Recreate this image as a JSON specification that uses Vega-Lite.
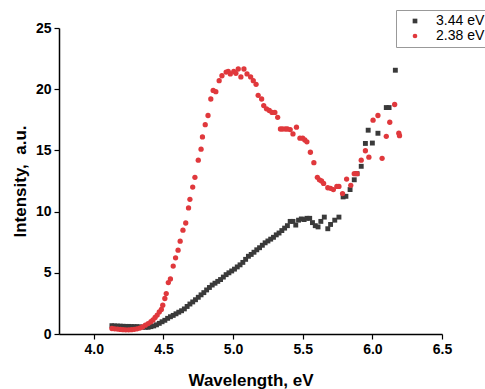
{
  "$schema": "https://vega.github.io/schema/vega-lite/v6.json",
  "autosize": "none",
  "width": 383,
  "height": 306,
  "padding": {"left": 59, "top": 28, "right": 43, "bottom": 55},
  "background": "white",
  "config": {"view": {"stroke": null}, "font": "Liberation Sans"},
  "datasets": {
    "red": [
      [4.13,0.45],[4.15,0.42],[4.17,0.40],[4.19,0.37],[4.21,0.35],[4.23,0.34],[4.25,0.34],[4.27,0.35],[4.29,0.38],[4.31,0.42],[4.33,0.48],[4.35,0.58],[4.37,0.72],[4.39,0.85],[4.41,1.0],[4.425,1.15],[4.44,1.35],[4.455,1.55],[4.47,1.8],[4.485,2.0],[4.495,2.35],[4.51,2.9],[4.52,3.3],[4.535,4.2],[4.55,4.5],[4.57,5.55],[4.587,6.22],[4.605,6.85],[4.62,7.58],[4.64,8.48],[4.66,9.07],[4.68,10.3],[4.69,11.0],[4.71,12.0],[4.726,12.8],[4.75,14.2],[4.77,15.1],[4.78,16.1],[4.80,17.1],[4.82,17.85],[4.84,19.2],[4.857,19.9],[4.876,19.8],[4.90,20.7],[4.92,21.1],[4.95,21.4],[4.965,21.45],[4.98,21.25],[5.005,21.46],[5.02,21.3],[5.037,21.65],[5.056,21.0],[5.078,21.65],[5.10,21.25],[5.126,21.0],[5.145,20.7],[5.165,20.4],[5.18,19.5],[5.205,19.2],[5.22,18.66],[5.24,18.4],[5.26,18.26],[5.28,18.1],[5.30,18.1],[5.32,17.7],[5.34,16.75],[5.355,16.75],[5.375,16.75],[5.39,16.75],[5.41,16.7],[5.43,16.35],[5.455,16.9],[5.48,16.0],[5.50,16.0],[5.515,15.85],[5.53,15.7],[5.555,14.85],[5.58,14.0],[5.605,12.8],[5.62,12.6],[5.635,12.5],[5.65,12.3],[5.68,11.95],[5.70,11.9],[5.72,11.8],[5.745,12.06],[5.76,12.06],[5.786,11.47],[5.815,12.66],[5.845,12.15],[5.87,13.1],[5.89,13.1],[5.92,14.2],[5.95,14.97],[5.975,14.45],[6.005,17.47],[6.04,17.85],[6.07,14.35],[6.10,16.15],[6.125,17.3],[6.16,18.75],[6.19,16.4],[6.195,16.2]
    ],
    "black": [
      [4.13,0.68],[4.15,0.66],[4.17,0.65],[4.19,0.64],[4.21,0.63],[4.23,0.62],[4.25,0.62],[4.27,0.61],[4.29,0.60],[4.31,0.60],[4.33,0.58],[4.35,0.56],[4.37,0.55],[4.39,0.55],[4.41,0.60],[4.43,0.66],[4.45,0.75],[4.47,0.87],[4.49,1.0],[4.51,1.12],[4.53,1.28],[4.55,1.41],[4.57,1.52],[4.59,1.65],[4.61,1.78],[4.63,1.9],[4.65,2.05],[4.67,2.25],[4.69,2.45],[4.71,2.62],[4.73,2.8],[4.75,3.0],[4.77,3.2],[4.79,3.38],[4.81,3.6],[4.83,3.8],[4.85,4.0],[4.87,4.15],[4.89,4.3],[4.91,4.45],[4.93,4.65],[4.95,4.85],[4.97,5.0],[4.99,5.15],[5.01,5.3],[5.03,5.48],[5.05,5.65],[5.07,5.85],[5.09,6.1],[5.11,6.35],[5.13,6.5],[5.15,6.68],[5.17,6.88],[5.19,7.05],[5.21,7.25],[5.23,7.45],[5.25,7.6],[5.27,7.75],[5.29,7.9],[5.31,8.1],[5.33,8.25],[5.35,8.45],[5.37,8.65],[5.39,8.85],[5.41,9.2],[5.43,9.2],[5.45,8.9],[5.47,9.3],[5.49,9.4],[5.51,9.35],[5.53,9.45],[5.55,9.45],[5.57,9.1],[5.59,8.85],[5.61,8.75],[5.63,9.2],[5.655,9.55],[5.68,8.6],[5.70,8.95],[5.73,9.3],[5.76,9.55],[5.79,11.2],[5.81,11.25],[5.84,11.8],[5.87,12.6],[5.89,13.1],[5.92,13.7],[5.95,15.57],[5.97,16.65],[6.00,15.6],[6.04,16.4],[6.10,18.5],[6.12,18.5],[6.165,21.55]
    ]
  },
  "data": {"name": "red"},
  "layer": [
    {
      "data": {"name": "black"},
      "transform": [
        {"calculate": "datum[0]", "as": "ev"},
        {"calculate": "datum[1]", "as": "intensity"},
        {"calculate": "'3.44 eV'", "as": "series"}
      ],
      "mark": {"type": "point", "filled": true, "opacity": 1, "size": 24},
      "encoding": {
        "x": {"field": "ev", "type": "quantitative"},
        "y": {"field": "intensity", "type": "quantitative"},
        "color": {"field": "series", "type": "nominal"},
        "shape": {"field": "series", "type": "nominal"}
      }
    },
    {
      "transform": [
        {"calculate": "datum[0]", "as": "ev"},
        {"calculate": "datum[1]", "as": "intensity"},
        {"calculate": "'2.38 eV'", "as": "series"}
      ],
      "mark": {"type": "point", "filled": true, "opacity": 1, "size": 28},
      "encoding": {
        "x": {
          "field": "ev", "type": "quantitative",
          "scale": {"domain": [3.75, 6.5], "nice": false, "zero": false},
          "axis": {
            "title": "Wavelength, eV",
            "values": [4.0,4.25,4.5,4.75,5.0,5.25,5.5,5.75,6.0,6.25,6.5],
            "labelExpr": "abs(datum.value*2 - round(datum.value*2)) > 0.01 ? '' : format(datum.value, '.1f')",
            "tickSize": {"condition": {"test": "abs(datum.value*2 - round(datum.value*2)) > 0.01", "value": 3}, "value": 5},
            "grid": false,
            "domainColor": "#000", "domainWidth": 1.5,
            "tickColor": "#000", "tickWidth": 1.2,
            "labelFont": "Liberation Sans", "labelFontSize": 14, "labelFontWeight": "bold", "labelColor": "#000",
            "labelPadding": 3, "labelFlush": false, "labelOverlap": false,
            "titleFont": "Liberation Sans", "titleFontSize": 17, "titleFontWeight": "bold", "titleColor": "#000",
            "titlePadding": 16
          }
        },
        "y": {
          "field": "intensity", "type": "quantitative",
          "scale": {"domain": [0, 25], "nice": false},
          "axis": {
            "title": "Intensity,\u00a0 a.u.",
            "values": [0,2.5,5,7.5,10,12.5,15,17.5,20,22.5,25],
            "labelExpr": "datum.value % 5 != 0 ? '' : format(datum.value, 'd')",
            "tickSize": {"condition": {"test": "datum.value % 5 != 0", "value": 3}, "value": 5},
            "grid": false,
            "domainColor": "#000", "domainWidth": 1.5,
            "tickColor": "#000", "tickWidth": 1.2,
            "labelFont": "Liberation Sans", "labelFontSize": 14, "labelFontWeight": "bold", "labelColor": "#000",
            "labelPadding": 3, "labelFlush": false, "labelOverlap": false,
            "titleFont": "Liberation Sans", "titleFontSize": 17, "titleFontWeight": "bold", "titleColor": "#000",
            "titlePadding": 6
          }
        },
        "color": {
          "field": "series", "type": "nominal",
          "scale": {"domain": ["3.44 eV", "2.38 eV"], "range": ["#3a3a3a", "#e0383c"]},
          "legend": {
            "title": null, "orient": "none", "legendX": 337, "legendY": -18,
            "strokeColor": "#999", "padding": 4, "rowPadding": 1,
            "labelFont": "Liberation Sans", "labelFontSize": 14, "labelColor": "#000",
            "symbolSize": 22, "symbolOffset": 8, "labelOffset": 14
          }
        },
        "shape": {
          "field": "series", "type": "nominal",
          "scale": {"domain": ["3.44 eV", "2.38 eV"], "range": ["square", "circle"]}
        }
      }
    }
  ]
}
